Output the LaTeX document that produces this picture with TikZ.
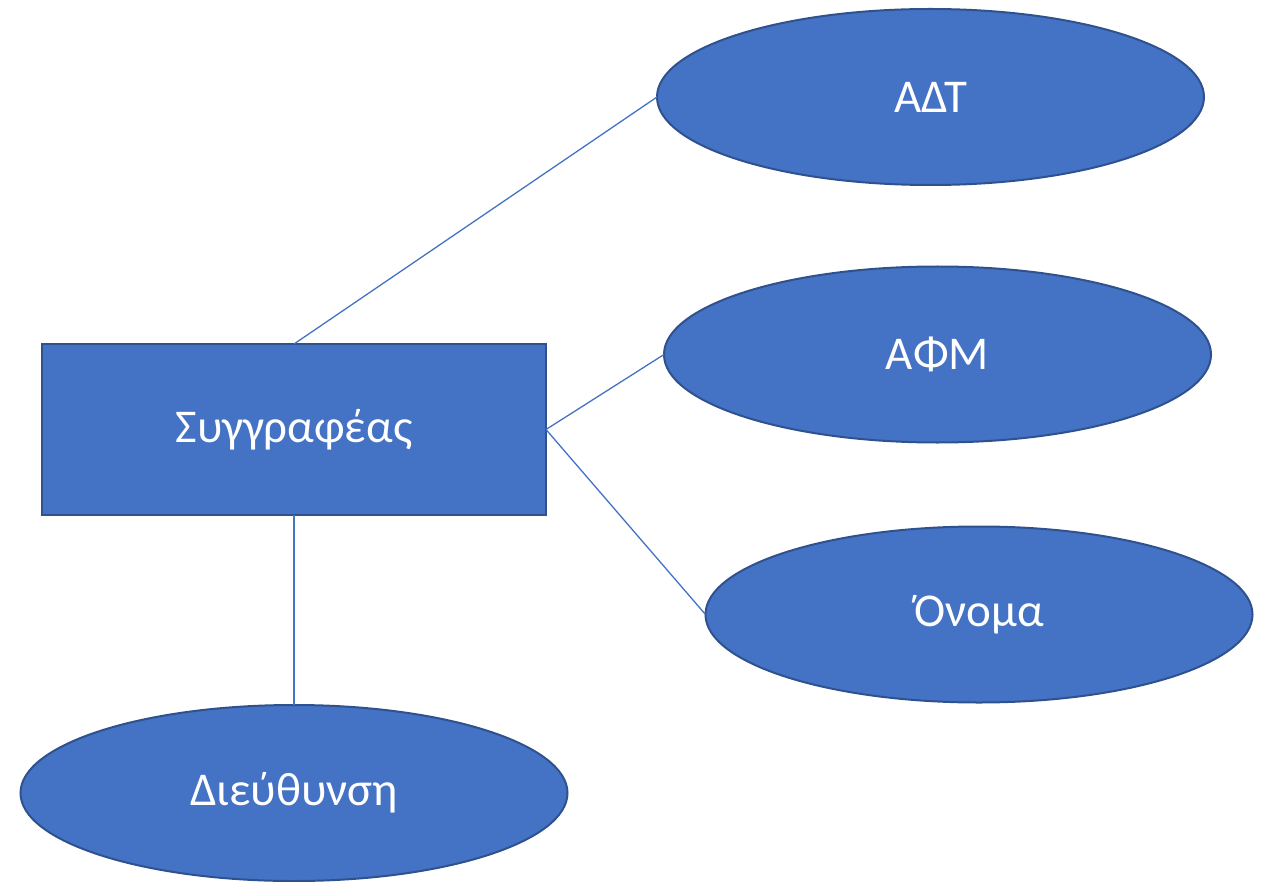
\documentclass[tikz,border=0pt]{standalone}
\usepackage{fontspec}
\setmainfont{Carlito}
\usetikzlibrary{shapes.geometric}
\definecolor{fillblue}{HTML}{4472C4}
\definecolor{edgeblue}{HTML}{2F528F}
\tikzset{
  entity/.style={draw=edgeblue, fill=fillblue, line width=2pt, rectangle, minimum width=504pt, minimum height=171pt, inner sep=0pt, outer sep=0pt, text=white, font=\fontsize{47}{56}\selectfont},
  attrib/.style={draw=edgeblue, fill=fillblue, line width=2pt, ellipse, minimum width=547pt, minimum height=176pt, inner sep=0pt, outer sep=0pt, text=white, font=\fontsize{47}{56}\selectfont},
  link/.style={draw=fillblue, line width=1.3pt}
}
\begin{document}
\begin{tikzpicture}[x=1pt,y=-1pt]
\useasboundingbox (0,0) rectangle (1265,882);
\node[entity] (ent) at (294,429.5) {Συγγραφέας};
\node[attrib] (adt) at (930.5,97) {ΑΔΤ};
\node[attrib] (afm) at (937.5,354.5) {ΑΦΜ};
\node[attrib] (onoma) at (979,614.5) {Όνομα};
\node[attrib] (dieu) at (294,793) {Διεύθυνση};
\draw[link] (ent.north) -- (adt.west);
\draw[link] (ent.east) -- (afm.west);
\draw[link] (ent.east) -- (onoma.west);
\draw[link] (ent.south) -- (dieu.north);
\end{tikzpicture}
\end{document}
